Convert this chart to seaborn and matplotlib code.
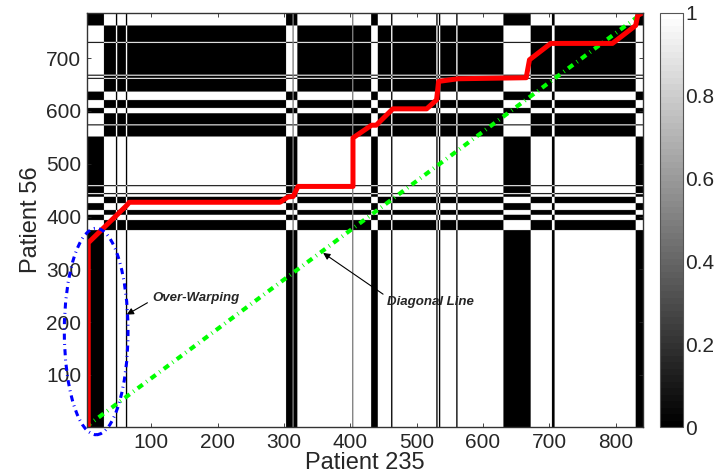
import numpy as np
import pandas as pd
import seaborn as sns
import matplotlib.pyplot as plt
from matplotlib.patches import Ellipse

# Binary state runs (start, end).
# Columns belong to Patient 235 (x), rows to Patient 56 (y).
n_cols = 841
n_rows = 786
col_runs = [(1, 28), (47, 48), (62, 63), (303, 312), (314, 319), (403, 403),
            (431, 440), (461, 462), (529, 530), (533, 534), (559, 560),
            (630, 670), (703, 706), (829, 841)]
row_runs = [(1, 373), (393, 402), (412, 424), (437, 441), (444, 456),
            (459, 550), (572, 573), (595, 604), (620, 635), (660, 661),
            (666, 667), (728, 729), (761, 786)]

# Warping path found by DTW
path_x = [5, 5, 63, 67, 294, 306, 314, 321, 404, 404, 432, 439, 464, 515,
          530, 533, 562, 665, 670, 702, 795, 830, 833, 841]
path_y = [1, 350, 421, 427, 427, 437, 438, 457, 457, 549, 573, 573, 604,
          604, 621, 656, 661, 663, 697, 728, 728, 762, 781, 786]

# Straight diagonal from corner to corner
diag_x = [1, 841]
diag_y = [1, 786]

cbar_ticks = [0, 0.2, 0.4, 0.6, 0.8, 1]
cbar_labels = ['0', '0.2', '0.4', '0.6', '0.8', '1']


def states(n, runs):
    s = np.zeros(n)
    for a, b in runs:
        s[a - 1:b] = 1
    return s


b = states(n_cols, col_runs)
a = states(n_rows, row_runs)
# cost is 0 where both states agree, 1 where they differ
cost = (a[:, None] != b[None, :]).astype(float)

sns.set_style("ticks")
plt.rcParams['font.family'] = ['Liberation Sans', 'DejaVu Sans']

fig = plt.figure(figsize=(7.18, 4.74), dpi=100)
ax = fig.add_axes([0.121, 0.099, 0.7745, 0.874])
cax = fig.add_axes([0.919, 0.099, 0.032, 0.874])

im = ax.imshow(cost, cmap=plt.get_cmap('gray', 64), origin='lower',
               extent=(0.5, n_cols + 0.5, 0.5, n_rows + 0.5), aspect='auto',
               vmin=0, vmax=1, interpolation='antialiased')

diag = pd.DataFrame({'x': diag_x, 'y': diag_y})
sns.lineplot(data=diag, x='x', y='y', ax=ax, color=(0, 1, 0), lw=3,
             sort=False, estimator=None)
ax.lines[-1].set_dashes([1.5, 1.1, 0.2, 1.1])

path = pd.DataFrame({'x': path_x, 'y': path_y})
sns.lineplot(data=path, x='x', y='y', ax=ax, color=(1, 0, 0), lw=3.6,
             sort=False, estimator=None)
ax.lines[-1].set_solid_joinstyle('round')

ell = Ellipse((17, 182), 96, 391, fill=False, edgecolor=(0, 0, 1), lw=2.2,
              linestyle=(0, (2.0, 1.4, 0.3, 1.4)), clip_on=False, zorder=5)
ax.add_patch(ell)

ax.annotate('Over-Warping', xy=(63, 214), xytext=(101, 246),
            fontsize=9.5, fontweight='bold', fontstyle='italic',
            ha='left', va='center',
            arrowprops=dict(arrowstyle='-|>', color='black', lw=0.8,
                            mutation_scale=10, relpos=(0, 0.3),
                            shrinkA=1, shrinkB=0))
ax.annotate('Diagonal Line', xy=(359, 331), xytext=(456, 238),
            fontsize=9.5, fontweight='bold', fontstyle='italic',
            ha='left', va='center',
            arrowprops=dict(arrowstyle='-|>', color='black', lw=0.8,
                            mutation_scale=10, relpos=(0, 0.9),
                            shrinkA=1, shrinkB=0))

ax.set_xlim(3, n_cols)
ax.set_ylim(1, n_rows)
ax.set_xticks(range(100, 900, 100))
ax.set_yticks(range(100, 800, 100))
ax.tick_params(direction='in', top=True, right=True, length=3, width=0.6,
               labelsize=15, pad=4)
for sp in ax.spines.values():
    sp.set_linewidth(1)
    sp.set_color('#333333')
ax.set_xlabel('Patient 235', fontsize=17, labelpad=0)
ax.set_ylabel('Patient 56', fontsize=17, labelpad=3)

cb = fig.colorbar(im, cax=cax)
cb.set_ticks(cbar_ticks)
cb.set_ticklabels(cbar_labels)
cb.outline.set_linewidth(0.8)
cb.outline.set_edgecolor('#555555')
cax.tick_params(direction='in', length=3, width=0.6, labelsize=15, pad=2)

fig.savefig('out.png', dpi=100)
